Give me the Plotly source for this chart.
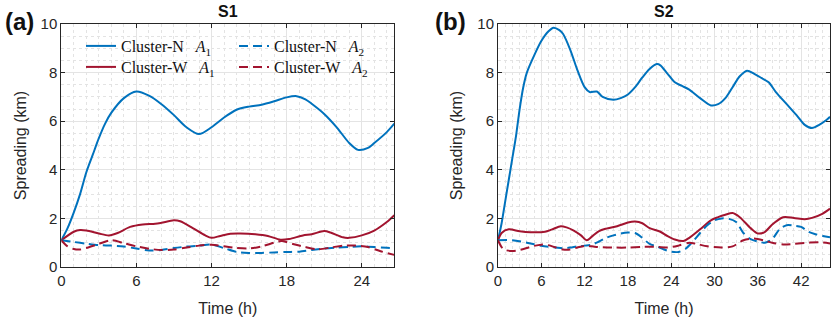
import plotly.graph_objects as go

# ---------- data ----------
# S1 panel
s1_n1_t = [0, 0.5, 1, 1.5, 2, 2.5, 3, 3.5, 4, 5, 6, 7, 8, 9, 10, 11, 12, 13, 14, 15, 16, 17, 18, 18.8, 19.5, 20, 21, 22, 23, 23.7, 24.5, 25, 26, 26.6]
s1_n1_y = [1.1, 1.6, 2.25, 3.0, 3.9, 4.6, 5.3, 5.9, 6.35, 6.95, 7.22, 7.05, 6.7, 6.25, 5.75, 5.47, 5.75, 6.15, 6.47, 6.6, 6.68, 6.82, 6.98, 7.03, 6.9, 6.72, 6.3, 5.75, 5.1, 4.82, 4.9, 5.1, 5.55, 5.9]

s1_w1_t = [0, 1, 1.5, 2, 3, 3.8, 4.5, 5.5, 6.5, 7.5, 8, 9, 9.5, 10.5, 11.5, 12, 12.7, 13.5, 14.3, 15.5, 16.5, 17.5, 18.2, 19.3, 20, 21, 21.5, 22.5, 23, 24, 25, 26, 26.6]
s1_w1_y = [1.1, 1.45, 1.52, 1.5, 1.38, 1.3, 1.4, 1.65, 1.75, 1.78, 1.82, 1.92, 1.88, 1.6, 1.3, 1.2, 1.28, 1.37, 1.38, 1.35, 1.28, 1.12, 1.15, 1.3, 1.35, 1.48, 1.42, 1.22, 1.2, 1.3, 1.5, 1.85, 2.13]

s1_n2_t = [0, 1, 2, 3, 4, 5, 6, 7, 8, 9, 10, 11, 12, 13, 14, 15, 16, 17, 18, 19, 20, 21, 22, 23, 24, 25, 26, 26.6]
s1_n2_y = [1.1, 1.03, 0.96, 0.9, 0.88, 0.84, 0.76, 0.68, 0.7, 0.78, 0.84, 0.88, 0.92, 0.78, 0.62, 0.58, 0.58, 0.6, 0.62, 0.63, 0.7, 0.76, 0.8, 0.83, 0.85, 0.82, 0.79, 0.77]

s1_w2_t = [0, 0.5, 1, 1.5, 2, 3, 4, 5, 6, 7, 8, 9, 10, 11, 12, 13, 14, 15, 16, 17, 17.6, 18.5, 19.5, 20.5, 21.5, 22.5, 23.5, 24.5, 25.5, 26.6]
s1_w2_y = [1.1, 0.85, 0.74, 0.72, 0.78, 0.95, 1.1, 0.98, 0.85, 0.75, 0.7, 0.72, 0.8, 0.88, 0.92, 0.85, 0.78, 0.76, 0.85, 1.0, 1.07, 0.95, 0.82, 0.73, 0.8, 0.88, 0.88, 0.82, 0.65, 0.5]

# S2 panel
s2_n1_t = [0, 0.5, 1, 1.5, 2, 2.5, 3, 3.5, 4, 5, 6, 7, 7.7, 8.5, 9, 10, 11, 12, 12.7, 13.7, 14.5, 16, 17, 18, 19, 20, 21, 22, 22.5, 23.5, 24.5, 25.5, 26.5, 28, 29.5, 30.5, 31.5, 32.5, 33.5, 34.5, 35.5, 36.5, 37.5, 38.5, 40, 41.5, 42.5, 43.5, 44.5, 45.5, 46]
s2_n1_y = [1.1, 1.8, 2.7, 3.6, 4.5, 5.4, 6.5, 7.4, 8.0, 8.7, 9.3, 9.7, 9.85, 9.75, 9.6, 8.95, 8.1, 7.4, 7.2, 7.22, 7.0, 6.88, 6.95, 7.1, 7.4, 7.8, 8.15, 8.35, 8.3, 7.95, 7.6, 7.45, 7.3, 6.95, 6.65, 6.7, 6.95, 7.4, 7.85, 8.08, 7.95, 7.78, 7.6, 7.2, 6.7, 6.2, 5.85, 5.72, 5.85, 6.05, 6.18]

s2_w1_t = [0, 0.5, 1.5, 3, 4.5, 6.5, 7.5, 8.7, 9.5, 10.5, 11.5, 12.3, 13, 14, 15, 16.5, 18, 19, 20, 21, 22.5, 23.5, 24.5, 25.7, 26.5, 28, 29.5, 30.5, 31.5, 32.5, 33.5, 35, 36, 37, 38, 39.5, 41, 42.5, 43.5, 45, 46]
s2_w1_y = [1.1, 1.4, 1.55, 1.47, 1.43, 1.45, 1.55, 1.68, 1.63, 1.5, 1.3, 1.1, 1.25, 1.48, 1.58, 1.68, 1.83, 1.87, 1.8, 1.6, 1.45, 1.27, 1.13, 1.07, 1.2, 1.55, 1.92, 2.05, 2.15, 2.22, 2.05, 1.6, 1.38, 1.45, 1.75, 2.05, 2.02, 1.97, 2.02, 2.2, 2.4]

s2_n2_t = [0, 2, 4, 6, 8, 9, 10, 11, 12, 13, 14, 15, 16, 17, 18, 19, 20, 21, 22, 23, 24, 25, 26, 27, 28, 29, 30, 31, 32, 33, 34, 35, 36, 37, 38, 39, 40, 41, 42, 43, 44, 45, 46]
s2_n2_y = [1.1, 1.1, 1.0, 0.87, 0.8, 0.77, 0.8, 0.85, 0.88, 0.92, 1.05, 1.2, 1.3, 1.38, 1.42, 1.4, 1.2, 0.95, 0.85, 0.72, 0.63, 0.62, 0.75, 1.05, 1.4, 1.72, 1.92, 2.0, 1.98, 1.85, 1.4, 1.15, 1.05, 1.0, 1.15, 1.55, 1.72, 1.7, 1.65, 1.45, 1.35, 1.28, 1.22]

s2_w2_t = [0, 0.5, 1, 2, 3, 4, 5, 6, 7, 8, 9, 10, 11, 12, 13, 14, 16, 18, 20, 22, 23.5, 25, 26.5, 27.5, 29, 31, 32.5, 34, 35.5, 37, 38, 39.5, 41, 43, 44.5, 46]
s2_w2_y = [1.1, 0.82, 0.7, 0.66, 0.7, 0.78, 0.87, 0.92, 0.9, 0.8, 0.72, 0.72, 0.8, 0.87, 0.85, 0.82, 0.8, 0.8, 0.83, 0.83, 0.8, 0.88, 1.0, 0.95, 0.85, 0.8, 0.85, 1.1, 1.17, 1.08, 1.0, 0.93, 0.95, 1.0, 1.02, 0.97]

labels = ["Cluster-N&nbsp;&nbsp; <i>A</i><sub>1</sub>", "Cluster-W&nbsp;&nbsp; <i>A</i><sub>1</sub>",
          "Cluster-N&nbsp;&nbsp; <i>A</i><sub>2</sub>", "Cluster-W&nbsp;&nbsp; <i>A</i><sub>2</sub>"]
x_ticks_s1 = [0, 6, 12, 18, 24]
x_ticks_s2 = [0, 6, 12, 18, 24, 30, 36, 42]
y_ticks = [0, 2, 4, 6, 8, 10]

BLUE = "#0072BD"
RED = "#A2142F"
DASH = "9px,5px"
W, H = 832, 320

fig = go.Figure()

panels = [
    ("x", "y", [(s1_n1_t, s1_n1_y), (s1_w1_t, s1_w1_y), (s1_n2_t, s1_n2_y), (s1_w2_t, s1_w2_y)], True),
    ("x2", "y2", [(s2_n1_t, s2_n1_y), (s2_w1_t, s2_w1_y), (s2_n2_t, s2_n2_y), (s2_w2_t, s2_w2_y)], False),
]
# one single-entry legend per series, so each entry sits where it does in the reference
styles = [(BLUE, "solid", "legend"), (RED, "solid", "legend2"), (BLUE, DASH, "legend3"), (RED, DASH, "legend4")]

for xa, ya, series, show in panels:
    for (t, v), lab, (col, dash, lg) in zip(series, labels, styles):
        fig.add_trace(go.Scatter(x=t, y=v, mode="lines", name=lab, xaxis=xa, yaxis=ya,
                                 line=dict(color=col, width=2, dash=dash, shape="spline", smoothing=0.8),
                                 showlegend=show, legend=lg))

SANS = "Liberation Sans, Arial"
axis_common = dict(showline=True, linecolor="#262626", linewidth=1, mirror="ticks",
                   ticks="inside", ticklen=4, tickcolor="#262626", automargin=False,
                   showgrid=True, gridcolor="#e4e4e4", gridwidth=1, zeroline=False,
                   tickfont=dict(family=SANS, size=15, color="#262626"))
minor_x = dict(dtick=1, tick0=0, showgrid=True, gridcolor="#e3e3e3", griddash="dot", ticks="")
minor_y = dict(dtick=0.5, tick0=0, showgrid=True, gridcolor="#e3e3e3", griddash="dot", ticks="")
title_font = dict(family=SANS, size=16, color="#262626")

def leg(xpx, ypx):
    return dict(x=xpx / W, y=1 - ypx / H, xanchor="left", yanchor="top", bgcolor="rgba(0,0,0,0)",
                font=dict(family="Liberation Serif, Times New Roman", size=16, color="#111"),
                itemwidth=30, borderwidth=0)

ydom = [1 - 267 / H, 1 - 24 / H]
fig.update_layout(
    width=W, height=H, margin=dict(l=0, r=0, t=0, b=0),
    plot_bgcolor="white", paper_bgcolor="white",
    xaxis=dict(domain=[61.3 / W, 394.3 / W], range=[0, 26.6], tickvals=x_ticks_s1,
               title=dict(text="Time (h)", font=title_font, standoff=14),
               minor=minor_x, anchor="y", **axis_common),
    yaxis=dict(domain=ydom, range=[0, 10], tickvals=y_ticks,
               title=dict(text="Spreading (km)", font=title_font, standoff=10),
               minor=minor_y, anchor="x", **axis_common),
    xaxis2=dict(domain=[498 / W, 830 / W], range=[0, 46], tickvals=x_ticks_s2,
                title=dict(text="Time (h)", font=title_font, standoff=14),
                minor=minor_x, anchor="y2", **axis_common),
    yaxis2=dict(domain=ydom, range=[0, 10], tickvals=y_ticks,
                title=dict(text="Spreading (km)", font=title_font, standoff=10),
                minor=minor_y, anchor="x2", **axis_common),
    legend=leg(81, 29), legend2=leg(81, 50),
    legend3=leg(234, 29), legend4=leg(234, 50),
)

# panel titles and labels
for txt, xc in [("S1", (61.3 + 394.3) / 2), ("S2", (498 + 830) / 2)]:
    fig.add_annotation(text=f"<b>{txt}</b>", x=xc / W, y=1 - 11 / H, xref="paper", yref="paper",
                       xanchor="center", yanchor="middle", showarrow=False,
                       font=dict(family=SANS, size=16, color="#111"))
for txt, xc in [("(a)", 19), ("(b)", 450)]:
    fig.add_annotation(text=f"<b>{txt}</b>", x=xc / W, y=1 - 21 / H, xref="paper", yref="paper",
                       xanchor="center", yanchor="middle", showarrow=False,
                       font=dict(family=SANS, size=24, color="#111"))

fig.write_html("out.html", config={"displayModeBar": False},
               post_script="document.body.style.margin='0';")
